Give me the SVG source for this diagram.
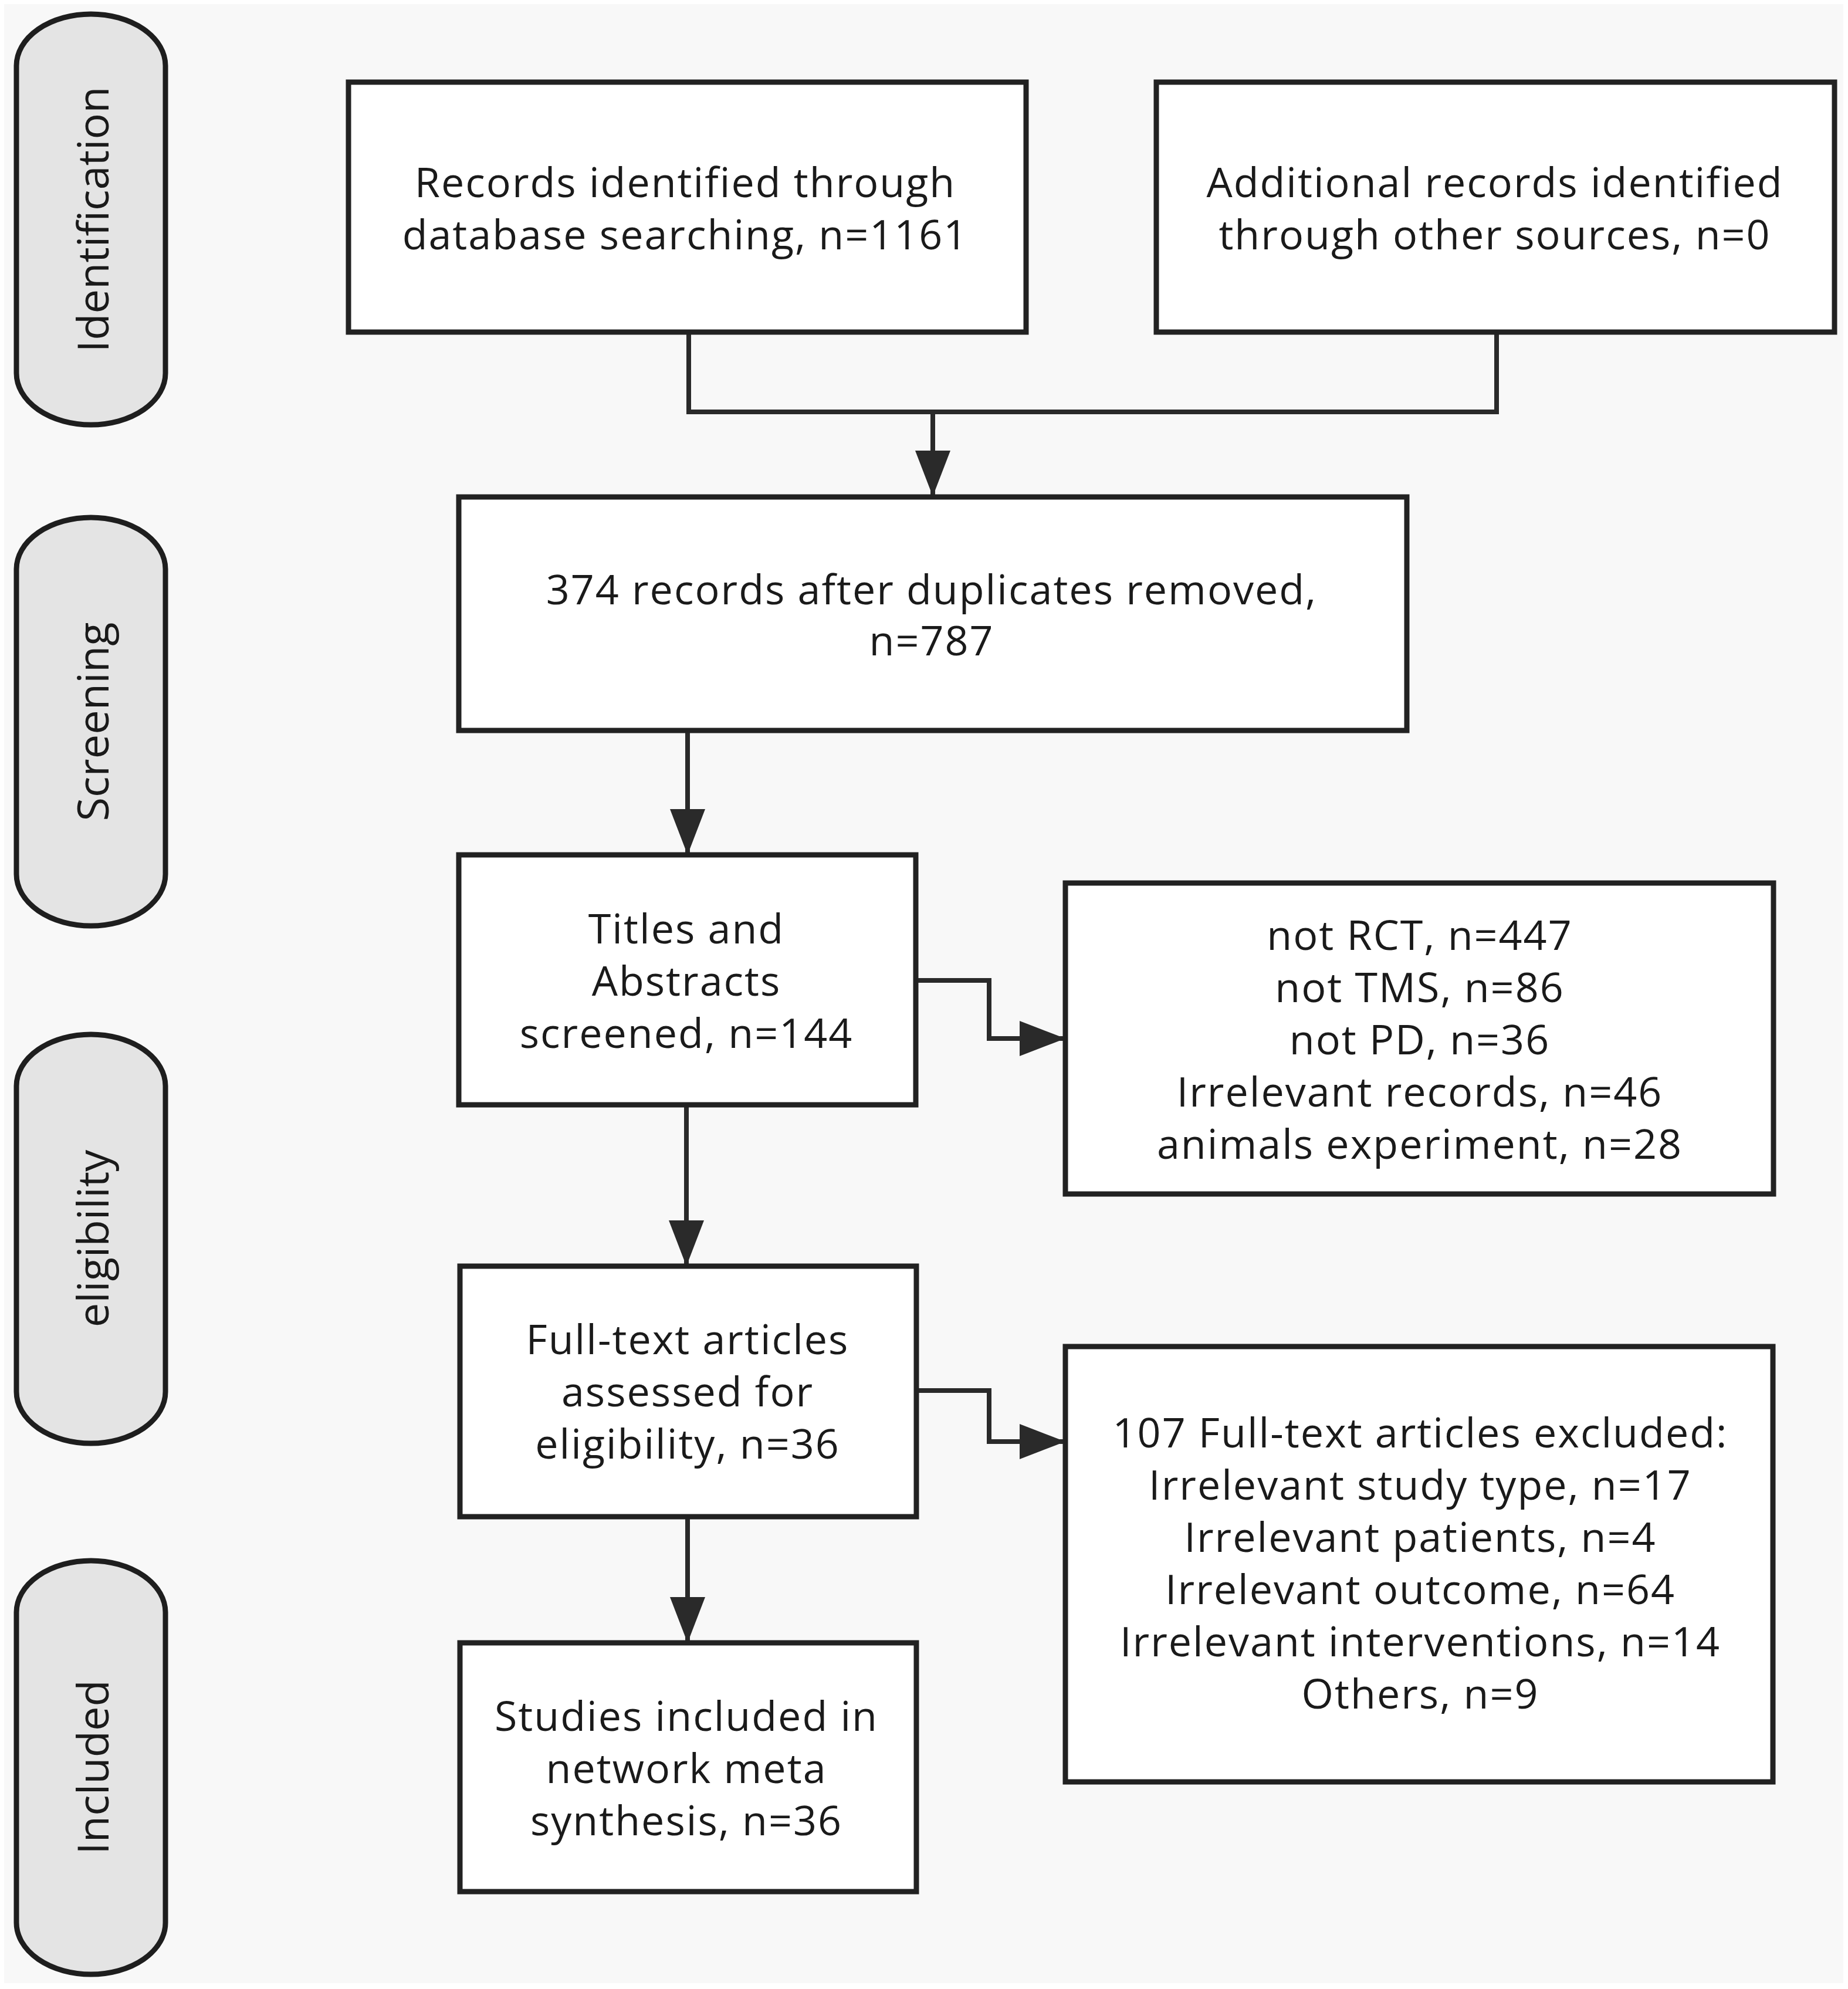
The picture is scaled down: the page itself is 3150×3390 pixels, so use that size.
<svg xmlns="http://www.w3.org/2000/svg" width="3150" height="3390" viewBox="0 0 3150 3390">
<defs>
<style>
.box{fill:#ffffff;stroke:#222222;stroke-width:9}
.pill{fill:#e4e4e4;stroke:#1e1e1e;stroke-width:9}
.t{font-family:"Open Sans","Noto Sans","DejaVu Sans",sans-serif;font-size:70px;letter-spacing:2px;fill:#1a1a1a;text-anchor:middle}
.pt{font-family:"Open Sans","Noto Sans","DejaVu Sans",sans-serif;font-size:74px;fill:#1a1a1a;text-anchor:middle}
.c{fill:none;stroke:#2a2a2a;stroke-width:8;stroke-linejoin:miter}
</style>
<marker id="arr" markerUnits="userSpaceOnUse" markerWidth="84" markerHeight="64" refX="78" refY="30" orient="auto">
<path d="M0,0 L78,30 L0,60 z" fill="#2a2a2a"/>
</marker>
</defs>
<rect x="0" y="0" width="3150" height="3390" fill="#ffffff"/>
<rect x="7" y="7" width="3135" height="3373" fill="#f8f8f8"/>

<g id="phase-identification">
<rect class="pill" x="28" y="24" width="254" height="700" rx="127" ry="88"/>
<text class="pt" transform="translate(185,374) rotate(-90)">Identification</text>
</g>
<g id="phase-screening">
<rect class="pill" x="28" y="882" width="254" height="696" rx="127" ry="88"/>
<text class="pt" transform="translate(185,1230) rotate(-90)">Screening</text>
</g>
<g id="phase-eligibility">
<rect class="pill" x="28" y="1763" width="254" height="697" rx="127" ry="88"/>
<text class="pt" transform="translate(185,2111) rotate(-90)">eligibility</text>
</g>
<g id="phase-included">
<rect class="pill" x="28" y="2660" width="254" height="705" rx="127" ry="88"/>
<text class="pt" transform="translate(185,3012) rotate(-90)">Included</text>
</g>

<g id="connectors">
<path class="c" d="M1174,566 V702 H2551 V566"/>
<path class="c" d="M1590,702 V846" marker-end="url(#arr)"/>
<path class="c" d="M1172,1245 V1457" marker-end="url(#arr)"/>
<path class="c" d="M1561,1671 H1686 V1770 H1816" marker-end="url(#arr)"/>
<path class="c" d="M1170,1883 V2158" marker-end="url(#arr)"/>
<path class="c" d="M1562,2370 H1686 V2457 H1816" marker-end="url(#arr)"/>
<path class="c" d="M1172,2585 V2800" marker-end="url(#arr)"/>
</g>

<g id="node-database">
<rect class="box" x="594" y="140" width="1155" height="426"/>
<text class="t" x="1168" y="336">Records identified through</text>
<text class="t" x="1168" y="425">database searching, n=1161</text>
</g>
<g id="node-other">
<rect class="box" x="1971" y="140" width="1156" height="426"/>
<text class="t" x="2548" y="336">Additional records identified</text>
<text class="t" x="2548" y="425">through other sources, n=0</text>
</g>
<g id="node-dedup">
<rect class="box" x="782" y="847" width="1616" height="398"/>
<text class="t" x="1588" y="1030">374 records after duplicates removed,</text>
<text class="t" x="1588" y="1117">n=787</text>
</g>
<g id="node-screened">
<rect class="box" x="782" y="1457" width="779" height="426"/>
<text class="t" x="1170" y="1608">Titles and</text>
<text class="t" x="1170" y="1697">Abstracts</text>
<text class="t" x="1170" y="1786">screened, n=144</text>
</g>
<g id="node-excluded1">
<rect class="box" x="1816" y="1505" width="1207" height="530"/>
<text class="t" x="2420" y="1619">not RCT, n=447</text>
<text class="t" x="2420" y="1708">not TMS, n=86</text>
<text class="t" x="2420" y="1797">not PD, n=36</text>
<text class="t" x="2420" y="1886">Irrelevant records, n=46</text>
<text class="t" x="2420" y="1975">animals experiment, n=28</text>
</g>
<g id="node-fulltext">
<rect class="box" x="784" y="2158" width="778" height="427"/>
<text class="t" x="1172" y="2308">Full-text articles</text>
<text class="t" x="1172" y="2397">assessed for</text>
<text class="t" x="1172" y="2486">eligibility, n=36</text>
</g>
<g id="node-excluded2">
<rect class="box" x="1816" y="2295" width="1206" height="742"/>
<text class="t" x="2421" y="2467">107 Full-text articles excluded:</text>
<text class="t" x="2421" y="2556">Irrelevant study type, n=17</text>
<text class="t" x="2421" y="2645">Irrelevant patients, n=4</text>
<text class="t" x="2421" y="2734">Irrelevant outcome, n=64</text>
<text class="t" x="2421" y="2823">Irrelevant interventions, n=14</text>
<text class="t" x="2421" y="2912">Others, n=9</text>
</g>
<g id="node-included">
<rect class="box" x="784" y="2800" width="778" height="424"/>
<text class="t" x="1170" y="2950">Studies included in</text>
<text class="t" x="1170" y="3039">network meta</text>
<text class="t" x="1170" y="3128">synthesis, n=36</text>
</g>
</svg>
